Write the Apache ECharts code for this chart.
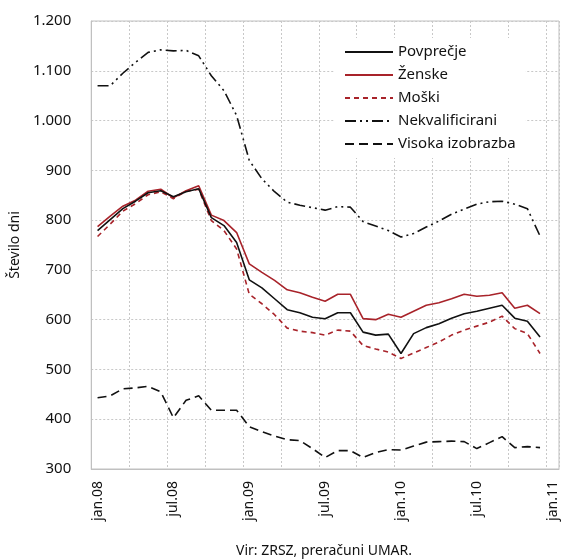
<!DOCTYPE html>
<html>
<head>
<meta charset="utf-8">
<script src="https://cdn.jsdelivr.net/npm/echarts@6/dist/echarts.min.js"></script>
<style>html,body{margin:0;padding:0;background:#fff;}#c{width:562px;height:560px;}</style>
</head>
<body>
<div id="c"></div>
<script>
const categories = ['jan.08','feb.08','mar.08','apr.08','maj.08','jun.08','jul.08','avg.08','sep.08','okt.08','nov.08','dec.08',
  'jan.09','feb.09','mar.09','apr.09','maj.09','jun.09','jul.09','avg.09','sep.09','okt.09','nov.09','dec.09',
  'jan.10','feb.10','mar.10','apr.10','maj.10','jun.10','jul.10','avg.10','sep.10','okt.10','nov.10','dec.10','jan.11'];
const povprecje = [779, 801, 823, 838, 855, 859, 847, 857, 863, 805, 789, 755, 680, 664, 642, 620, 614, 605, 602, 614, 614, 575, 569, 571, 532, 572, 584, 592, 603, 612, 617, 623, 629, 603, 597, 565];
const zenske = [787, 808, 828, 840, 858, 862, 845, 859, 869, 810, 799, 775, 712, 695, 679, 660, 654, 645, 637, 651, 651, 602, 600, 611, 605, 617, 629, 634, 642, 651, 647, 649, 654, 623, 629, 612];
const moski = [767, 792, 818, 833, 851, 857, 843, 858, 862, 799, 779, 742, 651, 632, 610, 583, 577, 574, 569, 579, 577, 548, 541, 535, 522, 533, 544, 555, 569, 579, 587, 595, 607, 582, 572, 532];
const nekvalificirani = [1070, 1070, 1095, 1117, 1137, 1142, 1140, 1141, 1130, 1090, 1060, 1010, 920, 883, 857, 836, 830, 825, 820, 827, 826, 797, 788, 779, 766, 773, 786, 798, 812, 822, 832, 837, 838, 832, 823, 768];
const visoka = [443, 447, 461, 463, 466, 455, 403, 438, 447, 418, 418, 418, 385, 375, 366, 359, 357, 341, 323, 337, 337, 323, 333, 339, 338, 346, 354, 355, 356, 355, 341, 353, 365, 343, 345, 343];
const seriesNames = ['Povprečje', 'Ženske', 'Moški', 'Nekvalificirani', 'Visoka izobrazba'];
const yAxisName = 'Število dni';
const sourceText = 'Vir: ZRSZ, preračuni UMAR.';

const FONT = 'Noto Sans';
const RED = '#A8232A';
const chart = echarts.init(document.getElementById('c'), null, {renderer: 'canvas'});
function mk(name, data, color, type, width) {
  return {name, type: 'line', data, symbol: 'none', showSymbol: false,
    lineStyle: {color, width, type}, itemStyle: {color}, animation: false};
}
chart.setOption({
  animation: false,
  textStyle: {fontFamily: FONT},
  grid: {left: 89, right: 3, top: 21, bottom: 91, show: true, borderColor: '#c0c0c0', borderWidth: 1},
  legend: {
    orient: 'vertical', left: 334, top: 38, padding: [6, 10], backgroundColor: '#fff',
    itemWidth: 48, itemHeight: 14, itemGap: 7,
    itemStyle: {opacity: 0},
    textStyle: {fontFamily: FONT, fontSize: 15, color: '#111', lineHeight: 16},
    data: seriesNames
  },
  xAxis: {
    type: 'category', data: categories, boundaryGap: true,
    axisLine: {lineStyle: {color: '#c0c0c0'}},
    axisTick: {show: false},
    axisLabel: {interval: 5, rotate: 90, fontSize: 14, color: '#111', margin: 12, fontFamily: FONT},
    splitLine: {show: true, interval: 2, lineStyle: {color: '#c8c8c8', type: [2, 2], width: 1}}
  },
  yAxis: {
    type: 'value', min: 300, max: 1200, interval: 100,
    name: yAxisName, nameLocation: 'middle', nameGap: 66, nameRotate: 90,
    nameTextStyle: {fontSize: 14, color: '#111', fontFamily: FONT},
    axisLine: {show: true, lineStyle: {color: '#c0c0c0'}},
    axisTick: {show: false},
    axisLabel: {fontSize: 15, color: '#111', margin: 20, fontFamily: FONT,
      formatter: v => v >= 1000 ? Math.floor(v/1000) + '.' + String(v % 1000).padStart(3, '0') : String(v)},
    splitLine: {show: true, lineStyle: {color: '#c8c8c8', type: [2, 2], width: 1}}
  },
  graphic: [{type: 'text', x: 324, y: 551, style: {text: sourceText, font: '14px "Noto Sans"', fill: '#111', align: 'center', verticalAlign: 'middle'}}],
  series: [
    mk(seriesNames[3], nekvalificirani, '#111', [11, 4, 2, 4, 2, 4], 1.6),
    mk(seriesNames[4], visoka, '#111', [9, 5], 1.6),
    mk(seriesNames[2], moski, RED, [5, 4], 1.6),
    mk(seriesNames[1], zenske, RED, 'solid', 1.6),
    mk(seriesNames[0], povprecje, '#111', 'solid', 1.6)
  ]
});
</script>
</body>
</html>
